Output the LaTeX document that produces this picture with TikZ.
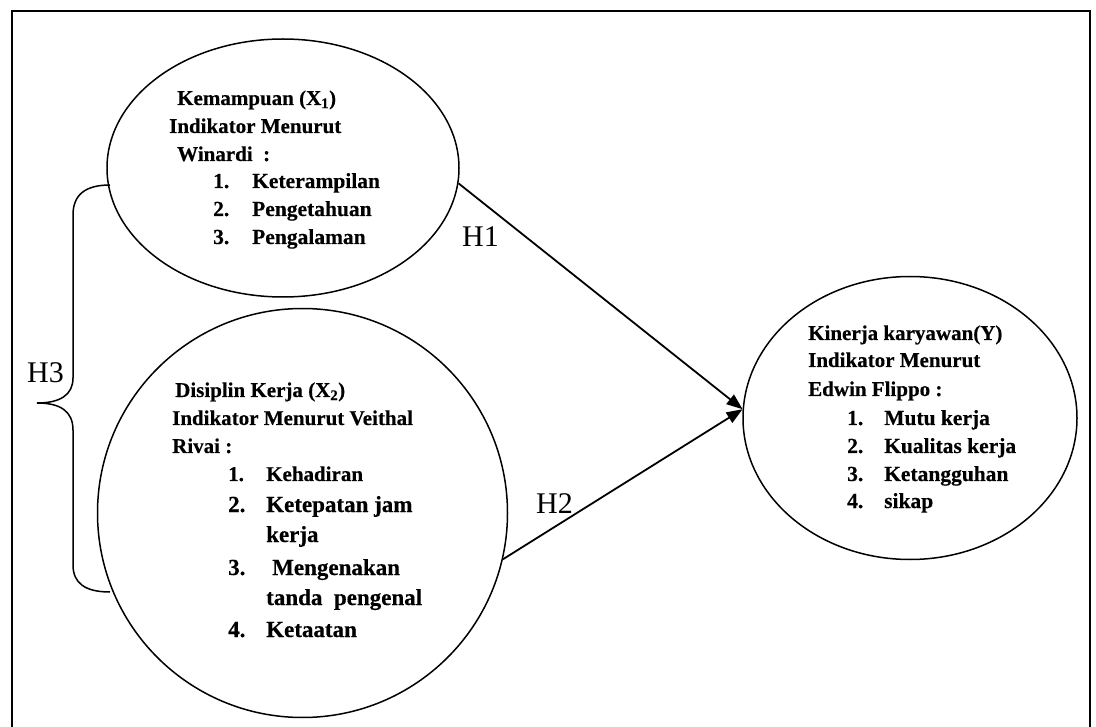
\documentclass[tikz,border=0pt]{standalone}
\usepackage{fontspec}
\setmainfont{Liberation Serif}[BoldFeatures={FakeBold=0.4}]
\usetikzlibrary{shapes.geometric,arrows.meta}
\tikzset{
  oval/.style={draw, ellipse, line width=1.5pt, inner sep=0pt},
  hd/.style={anchor=base west, inner sep=0pt, font=\bfseries\fontsize{21}{21}\selectfont},
  it/.style={anchor=base west, inner sep=0pt, font=\bfseries\fontsize{21.5}{21.5}\selectfont},
  itb/.style={anchor=base west, inner sep=0pt, font=\bfseries\fontsize{23}{23}\selectfont},
  hlab/.style={anchor=base west, inner sep=0pt, font=\fontsize{30}{30}\selectfont},
  conn/.style={line width=1.8pt, -{Triangle[length=16pt,width=12pt]}},
}
\begin{document}
\begin{tikzpicture}[x=1pt,y=-1pt]
\useasboundingbox (0,0) rectangle (1096,727);
% frame
\draw[line width=2pt] (12,735) -- (12,11) -- (1090,11) -- (1090,735);
% ellipses
\node[oval, minimum width=352pt, minimum height=258pt] (e1) at (283,168) {};
\node[oval, minimum width=410pt, minimum height=409pt] (e2) at (302.5,513) {};
\node[oval, minimum width=334pt, minimum height=283pt] (e3) at (910,418) {};
% ellipse 1 text
\node[hd] (a1) at (177,105) {Kemampuan (X\textsubscript{1})};
\node[hd] (a2) at (169,133) {Indikator Menurut};
\node[hd] (a3) at (177,161) {Winardi\ \ :};
\node[it] (a4n) at (213,188) {1.};
\node[it] (a4) at (252,188) {Keterampilan};
\node[it] (a5n) at (213,216) {2.};
\node[it] (a5) at (252,216) {Pengetahuan};
\node[it] (a6n) at (213,244) {3.};
\node[it] (a6) at (252,244) {Pengalaman};
% ellipse 2 text
\node[hd] (b1) at (175,397) {Disiplin Kerja (X\textsubscript{2})};
\node[hd] (b2) at (172,425) {Indikator Menurut Veithal};
\node[hd] (b3) at (172,453) {Rivai :};
\node[hd] (b4n) at (228,481) {1.};
\node[hd] (b4) at (266,481) {Kehadiran};
\node[itb] (b5n) at (228,512) {2.};
\node[itb] (b5) at (266,512) {Ketepatan jam};
\node[itb] (b6) at (266,542) {kerja};
\node[itb] (b7n) at (228,575) {3.};
\node[itb] (b7) at (272,575) {Mengenakan};
\node[itb] (b8) at (266,605) {tanda\ \ pengenal};
\node[itb] (b9n) at (228,637) {4.};
\node[itb] (b9) at (266,637) {Ketaatan};
% ellipse 3 text
\node[hd] (c1) at (808,340) {Kinerja karyawan(Y)};
\node[hd] (c2) at (808,367) {Indikator Menurut};
\node[hd] (c3) at (808,396) {Edwin Flippo :};
\node[it] (c4n) at (847,425) {1.};
\node[it] (c4) at (884,425) {Mutu kerja};
\node[it] (c5n) at (847,453) {2.};
\node[it] (c5) at (884,453) {Kualitas kerja};
\node[it] (c6n) at (847,481) {3.};
\node[it] (c6) at (884,481) {Ketangguhan};
\node[it] (c7n) at (847,508) {4.};
\node[it] (c7) at (884,508) {sikap};
% connectors
\draw[conn] (e1.-5) -- (e3.177);
\draw[conn] (e2.-13) -- (e3.177);
\node[hlab] (h1) at (462,247) {H1};
\node[hlab] (h2) at (536,513) {H2};
\node[hlab] (h3) at (27,383) {H3};
% brace
\coordinate (bt) at (110,185);
\coordinate (bb) at (110,592);
\coordinate (btip) at (37,403);
\draw[line width=1.5pt] (bt) .. controls (85,185) and (73,195) .. (73,215) -- (73,378)
  .. controls (73,395) and (60,403) .. (btip)
  .. controls (60,403) and (73,411) .. (73,430) -- (73,565)
  .. controls (73,583) and (85,592) .. (bb);
\end{tikzpicture}
\end{document}
